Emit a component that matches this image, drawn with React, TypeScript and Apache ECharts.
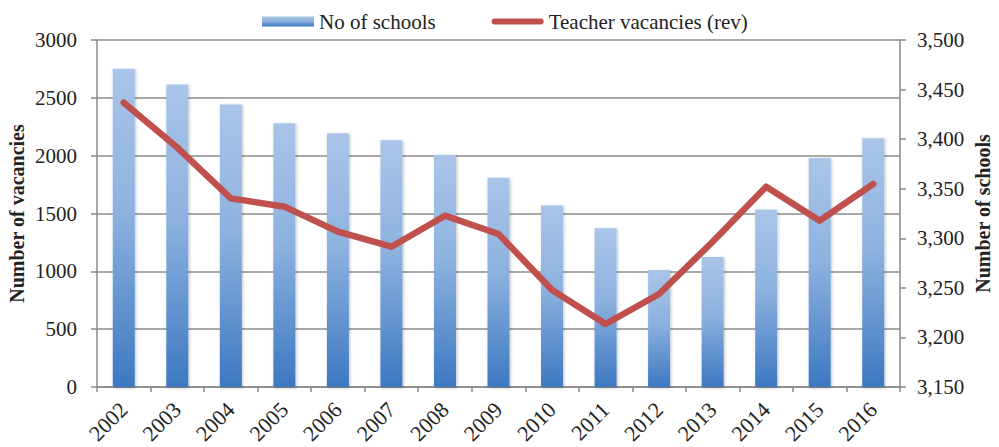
import React, { useEffect, useRef } from "react";
import * as echarts from "echarts";

const years = ["2002", "2003", "2004", "2005", "2006", "2007", "2008", "2009", "2010", "2011", "2012", "2013", "2014", "2015", "2016"];
const schools = [3471, 3455, 3435, 3416, 3406, 3399, 3384, 3361, 3333, 3310, 3268, 3281, 3329, 3381, 3401];
const vacancies = [2458, 2070, 1631, 1559, 1343, 1213, 1481, 1323, 839, 545, 804, 1256, 1732, 1438, 1755];
const schoolsMin = 3150;
const schoolsMax = 3500;
const vacMin = 0;
const vacMax = 3000;

const FONT = "Liberation Serif";

export default function App() {
  const ref = useRef<HTMLDivElement>(null);
  useEffect(() => {
    if (!ref.current) return;
    const chart = echarts.init(ref.current, null, { renderer: "svg" });
    const barGrad = new echarts.graphic.LinearGradient(0, 0, 0, 1, [
      { offset: 0, color: "#a9c5e9" },
      { offset: 0.45, color: "#8db2df" },
      { offset: 1, color: "#3d78c1" },
    ]);
    chart.setOption({
      animation: false,
      textStyle: { fontFamily: FONT },
      legend: {
        data: [
          { name: "No of schools", icon: "rect" },
          {
            name: "Teacher vacancies (rev)",
            icon: "path://M3,0 L50,0 A3,3 0 0 1 50,6 L3,6 A3,3 0 0 1 3,0 Z",
          },
        ],
        left: 257,
        top: 6,
        itemWidth: 52,
        itemHeight: 10,
        itemGap: 56,
        textStyle: { fontFamily: FONT, fontSize: 21, color: "#222" },
      },
      grid: { left: 97, right: 99, top: 40, bottom: 60, outerBoundsMode: "none", containLabel: false },
      xAxis: {
        type: "category",
        data: years,
        boundaryGap: true,
        axisLine: { lineStyle: { color: "#8a8a8a", width: 1.5 } },
        axisTick: { show: true, length: 5, lineStyle: { color: "#8a8a8a", width: 1.5 } },
        axisLabel: { rotate: 45, margin: 19, fontFamily: FONT, fontSize: 22, color: "#222" },
      },
      yAxis: [
        {
          type: "value",
          min: vacMin,
          max: vacMax,
          interval: 500,
          position: "left",
          name: "Number of vacancies",
          nameLocation: "middle",
          nameRotate: 90,
          nameGap: 70,
          nameMoveOverlap: false,
          nameTextStyle: { fontFamily: FONT, fontSize: 20, fontWeight: "bold", color: "#222" },
          axisLine: { show: true, lineStyle: { color: "#8a8a8a", width: 1.5 } },
          axisTick: { show: true, length: 6, lineStyle: { color: "#8a8a8a", width: 1.5 } },
          axisLabel: {
            margin: 20,
            fontFamily: FONT,
            fontSize: 21,
            color: "#222",
            formatter: (v: number) => String(v),
          },
          splitLine: { show: true, lineStyle: { color: "#8c8c8c", width: 1.5 } },
        },
        {
          type: "value",
          min: schoolsMin,
          max: schoolsMax,
          interval: 50,
          position: "right",
          alignTicks: false,
          name: "Number of schools",
          nameLocation: "middle",
          nameRotate: 90,
          nameGap: 73,
          nameMoveOverlap: false,
          nameTextStyle: { fontFamily: FONT, fontSize: 20, fontWeight: "bold", color: "#222" },
          axisLine: { show: true, lineStyle: { color: "#8a8a8a", width: 1.5 } },
          axisTick: { show: true, length: 6, lineStyle: { color: "#8a8a8a", width: 1.5 } },
          axisLabel: {
            margin: 17,
            fontFamily: FONT,
            fontSize: 21,
            color: "#222",
            formatter: (v: number) => v.toLocaleString("en-US"),
          },
          splitLine: { show: false },
        },
      ],
      series: [
        {
          name: "schoolsBase",
          type: "bar",
          yAxisIndex: 1,
          stack: "schools",
          silent: true,
          barWidth: 22,
          data: schools.map(() => schoolsMin),
          itemStyle: { color: "rgba(0,0,0,0)" },
        },
        {
          name: "No of schools",
          type: "bar",
          yAxisIndex: 1,
          stack: "schools",
          barWidth: 22,
          data: schools.map((v) => v - schoolsMin),
          itemStyle: {
            color: barGrad,
            shadowColor: "rgba(0,0,0,0.25)",
            shadowBlur: 3,
            shadowOffsetX: 1,
            shadowOffsetY: 1,
          },
        },
        {
          name: "Teacher vacancies (rev)",
          type: "line",
          yAxisIndex: 0,
          data: vacancies,
          symbol: "none",
          lineStyle: { color: "#c0504d", width: 6.5, cap: "round", join: "round" },
          itemStyle: { color: "#c0504d" },
          z: 5,
        },
      ],
    });
    return () => chart.dispose();
  }, []);
  return <div ref={ref} style={{ width: 999, height: 447, position: "absolute", left: 0, top: 0 }} />;
}
